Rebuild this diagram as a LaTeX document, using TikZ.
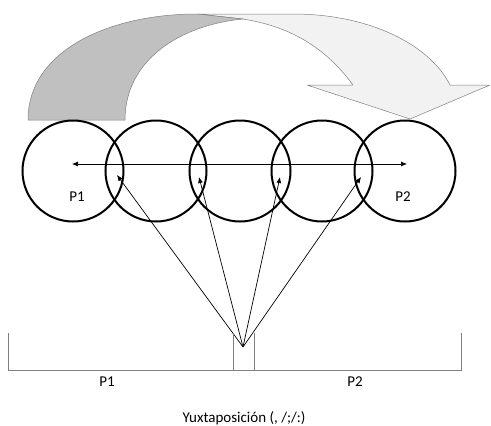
\documentclass[tikz,border=0pt]{standalone}
\usepackage{fontspec}
\setmainfont{Carlito}
\usetikzlibrary{arrows.meta}
\definecolor{darkfill}{HTML}{C0C0C0}
\definecolor{lightfill}{HTML}{F2F2F2}
\definecolor{edgegray}{HTML}{808080}
\begin{document}
\begin{tikzpicture}[x=1pt,y=-1pt,
  ring/.style={circle,draw=black,line width=2pt,minimum size=101pt,inner sep=0pt},
  lbl/.style={font=\fontsize{15}{18}\selectfont,inner sep=0pt},
  pointer/.style={line width=0.7pt,-{Latex[length=6pt,width=5pt]}},
  bracket/.style={draw=edgegray,line width=1pt},
  band/.style={draw=edgegray,line width=0.5pt,line join=round}]
\useasboundingbox (0,0) rectangle (491,426);
% big curved arrow
\path[band,fill=lightfill] (197,14) -- (293,14) .. controls (370,14) and (430,45) .. (450,85)
  -- (490,85) -- (410,119) -- (307,85) -- (353,85)
  .. controls (320,40) and (280,25) .. (243,19) -- cycle;
\path[band,fill=darkfill] (28,120) .. controls (28,50) and (110,14) .. (197,14)
  -- (243,19) .. controls (180,25) and (125,60) .. (125,120) -- cycle;
% circles
\node[ring] (c1) at (73,171) {};
\node[ring] (c2) at (156,171) {};
\node[ring] (c3) at (240,171) {};
\node[ring] (c4) at (322,171) {};
\node[ring] (c5) at (405,171) {};
\coordinate (l) at (72,164);
\coordinate (r) at (407,164);
\draw[line width=0.7pt,{Latex[length=6pt,width=5pt]}-{Latex[length=6pt,width=5pt]}] (l) -- (r);
\node[lbl] (p1top) at (77,197) {P1};
\node[lbl] (p2top) at (403,197) {P2};
% pointers
\coordinate (apex) at (243,347);
\coordinate (t1) at (117,175);
\coordinate (t2) at (199,177);
\coordinate (t3) at (280,177);
\coordinate (t4) at (361,177);
\foreach \t in {t1,t2,t3,t4} \draw[pointer] (apex) -- (\t);
% bracket
\coordinate (bl) at (8,333);
\coordinate (br) at (461,333);
\draw[bracket] (bl) -- (8,370) -- (461,370) -- (br);
\draw[bracket] (233,333) -- (233,370);
\draw[bracket] (254,333) -- (254,370);
\node[lbl] (p1) at (107,382) {P1};
\node[lbl] (p2) at (355,382) {P2};
\node[lbl] (yux) at (244,418) {Yuxtaposición (, /;/:)};
\end{tikzpicture}
\end{document}
